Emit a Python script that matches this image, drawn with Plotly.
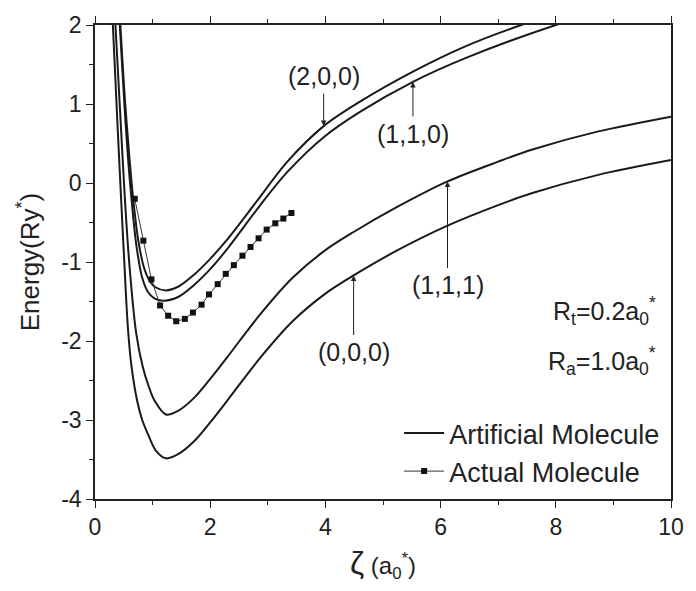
import plotly.graph_objects as go

# ---------------- data ----------------
zeta_000 = [0.31, 0.39, 0.46, 0.51, 0.57, 0.63, 0.73, 0.82, 0.92, 1.05, 1.23, 1.45, 1.72, 2.0,
            2.29, 2.86, 3.43, 4.0, 4.49, 5.23, 6.12, 7.0, 7.58, 8.72, 10.0]
E_000 = [2.0, 0.75, -0.3, -1.02, -1.82, -2.3, -2.75, -3.0, -3.18, -3.38, -3.485, -3.43, -3.27, -3.03,
         -2.76, -2.22, -1.75, -1.40, -1.17, -0.86, -0.54, -0.28, -0.13, 0.10, 0.29]

zeta_111 = [0.355, 0.44, 0.52, 0.60, 0.715, 0.83, 0.93, 1.03, 1.23, 1.45, 1.72, 2.0,
            2.29, 2.86, 3.43, 4.0, 4.49, 5.23, 6.12, 7.0, 7.58, 8.72, 10.0]
E_111 = [2.0, 0.85, -0.215, -1.06, -1.90, -2.33, -2.57, -2.75, -2.93, -2.88, -2.72, -2.48,
         -2.21, -1.67, -1.20, -0.85, -0.62, -0.31, 0.02, 0.27, 0.42, 0.65, 0.84]

zeta_110 = [0.43, 0.51, 0.58, 0.64, 0.72, 0.82, 0.92, 1.03, 1.2, 1.45, 1.72, 2.0, 2.29, 2.89,
            3.34, 3.97, 4.6, 5.52, 6.43, 8.0, 8.6]
E_110 = [2.0, 1.0, 0.25, -0.25, -0.8, -1.2, -1.38, -1.46, -1.49, -1.44, -1.29, -1.09, -0.84, -0.26,
         0.14, 0.58, 0.90, 1.28, 1.58, 2.0, 2.13]

zeta_200 = [0.44, 0.52, 0.60, 0.67, 0.75, 0.85, 0.95, 1.05, 1.23, 1.45, 1.72, 2.0, 2.29, 2.80,
            3.34, 3.97, 4.6, 5.52, 6.43, 7.4, 8.0]
E_200 = [2.0, 1.05, 0.3, -0.25, -0.72, -1.07, -1.24, -1.32, -1.36, -1.31, -1.16, -0.96, -0.72, -0.24,
         0.27, 0.72, 1.03, 1.41, 1.73, 2.0, 2.14]

zeta_actual = [0.69, 0.84, 0.98, 1.13, 1.27, 1.41, 1.56, 1.70, 1.85, 1.98, 2.13, 2.27, 2.41,
               2.56, 2.70, 2.84, 2.98, 3.13, 3.27, 3.41]
E_actual = [-0.20, -0.73, -1.22, -1.55, -1.68, -1.75, -1.72, -1.64, -1.54, -1.41, -1.28, -1.15, -1.04,
            -0.92, -0.81, -0.70, -0.59, -0.51, -0.45, -0.38]

x_tickvals = [0, 2, 4, 6, 8, 10]
x_ticktext = ["0", "2", "4", "6", "8", "10"]
y_tickvals = [-4, -3, -2, -1, 0, 1, 2]
y_ticktext = ["-4", "-3", "-2", "-1", "0", "1", "2"]

# annotation labels and the curve point each arrow points to
state_labels = ["(2,0,0)", "(1,1,0)", "(1,1,1)", "(0,0,0)"]
arrow_zeta = [3.97, 5.52, 6.12, 4.49]
arrow_E = [0.72, 1.28, 0.02, -1.17]

# ---------------- figure ----------------
FONT = "Liberation Sans, Arial, sans-serif"
fig = go.Figure()

curves = [(zeta_000, E_000), (zeta_111, E_111), (zeta_110, E_110), (zeta_200, E_200)]
for i, (zx, ey) in enumerate(curves):
    fig.add_trace(go.Scatter(
        x=zx, y=ey, mode="lines",
        line=dict(color="#1a1a1a", width=2, shape="spline", smoothing=0.9),
        name="Artificial Molecule", legendgroup="art", showlegend=(i == 0)))

fig.add_trace(go.Scatter(
    x=zeta_actual, y=E_actual, mode="lines+markers",
    line=dict(color="#333333", width=1),
    marker=dict(symbol="square", size=6, color="#111111"),
    name="Actual Molecule"))

offsets = {"(2,0,0)": -50, "(1,1,0)": 52, "(1,1,1)": 104, "(0,0,0)": 77}
for lab, zx, ey in zip(state_labels, arrow_zeta, arrow_E):
    fig.add_annotation(x=zx, y=ey, xref="x", yref="y", text=lab, showarrow=True,
                       ax=0, ay=offsets[lab], arrowhead=2, arrowsize=1.1, arrowwidth=1,
                       arrowcolor="#222", standoff=0, startstandoff=2,
                       font=dict(family=FONT, size=25, color="#222"))

fig.add_annotation(x=0.978, y=0.396, xref="paper", yref="paper", xanchor="right", yanchor="middle",
                   text="R<sub>t</sub>=0.2a<sub>0</sub><sup>*</sup>", showarrow=False,
                   font=dict(family=FONT, size=25, color="#222"))
fig.add_annotation(x=0.978, y=0.292, xref="paper", yref="paper", xanchor="right", yanchor="middle",
                   text="R<sub>a</sub>=1.0a<sub>0</sub><sup>*</sup>", showarrow=False,
                   font=dict(family=FONT, size=25, color="#222"))

axis_common = dict(showgrid=False, zeroline=False, showline=True, linecolor="#222", linewidth=1.5,
                   ticks="outside", tickcolor="#222", tickwidth=1.2, ticklen=7,
                   tickfont=dict(family=FONT, size=23, color="#222"))

fig.update_xaxes(range=[0, 10], tickvals=x_tickvals, ticktext=x_ticktext, mirror="ticks",
                 minor=dict(dtick=1, ticks="outside", ticklen=4, tickcolor="#222"),
                 title=dict(text="<span style='font-size:32px'>ζ</span> (a<sub>0</sub><sup>*</sup>)",
                            font=dict(family=FONT, size=24, color="#222"), standoff=18),
                 **axis_common)
fig.update_yaxes(range=[-4, 2], tickvals=y_tickvals, ticktext=y_ticktext, mirror=True,
                 minor=dict(dtick=0.5, ticks="outside", ticklen=4, tickcolor="#222"),
                 title=dict(text="Energy(Ry<sup>*</sup>)", font=dict(family=FONT, size=26, color="#222"),
                            standoff=14),
                 **axis_common)

fig.update_layout(
    width=696, height=591,
    margin=dict(l=95, r=18, t=25, b=92),
    paper_bgcolor="white", plot_bgcolor="white",
    showlegend=True,
    legend=dict(x=0.528, y=0.19, xanchor="left", yanchor="top", bgcolor="rgba(0,0,0,0)",
                font=dict(family=FONT, size=27, color="#222"), tracegroupgap=0, itemwidth=40),
)

fig.write_html("out.html")
